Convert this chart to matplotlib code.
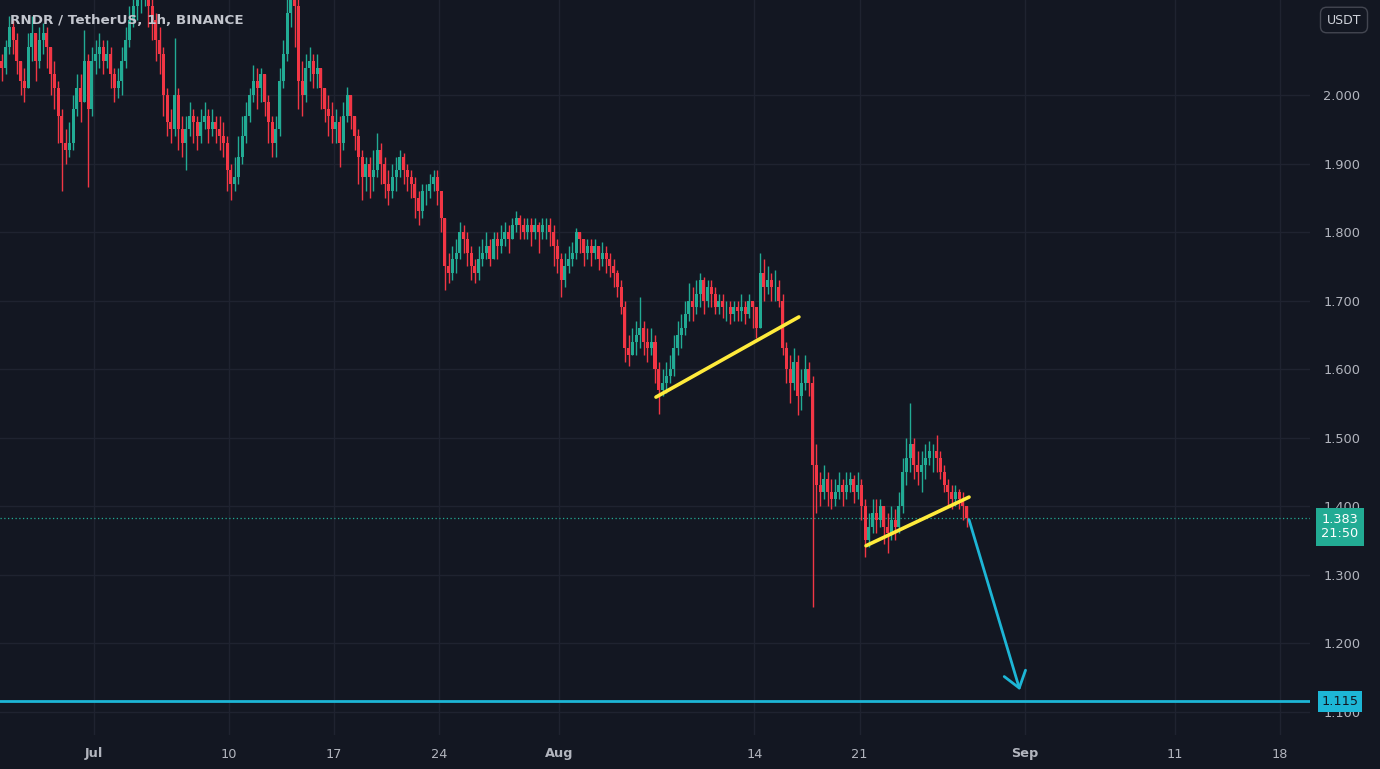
import numpy as np
import matplotlib.pyplot as plt
from matplotlib.transforms import blended_transform_factory

# RNDR/USDT, read off the chart as 6h candles (first one opens Jun 24 18:00)
# x unit = days since Jul 1 00:00
first_open = 2.05
first_day = -6.25
candle_days = 0.25

close = [
    2.04,
    2.07, 2.10, 2.08, 2.05,  # Jun 25
    2.02, 2.01, 2.07, 2.09,  # Jun 26
    2.05, 2.08, 2.09, 2.07,  # Jun 27
    2.03, 2.01, 1.97, 1.93,  # Jun 28
    1.92, 1.93, 1.98, 2.01,  # Jun 29
    1.99, 2.05, 1.98, 2.05,  # Jun 30
    2.06, 2.07, 2.05, 2.06,  # Jul 1
    2.03, 2.01, 2.02, 2.05,  # Jul 2
    2.08, 2.11, 2.13, 2.14,  # Jul 3
    2.15, 2.16, 2.13, 2.11,  # Jul 4
    2.08, 2.06, 2.00, 1.96,  # Jul 5
    1.95, 2.00, 1.95, 1.93,  # Jul 6
    1.95, 1.97, 1.96, 1.94,  # Jul 7
    1.96, 1.97, 1.95, 1.96,  # Jul 8
    1.95, 1.94, 1.93, 1.89,  # Jul 9
    1.87, 1.88, 1.91, 1.94,  # Jul 10
    1.97, 2.00, 2.02, 2.01,  # Jul 11
    2.03, 1.99, 1.96, 1.93,  # Jul 12
    1.95, 2.02, 2.06, 2.12,  # Jul 13
    2.15, 2.13, 2.02, 2.00,  # Jul 14
    2.04, 2.05, 2.03, 2.04,  # Jul 15
    2.01, 1.98, 1.97, 1.95,  # Jul 16
    1.96, 1.93, 1.97, 2.00,  # Jul 17
    1.97, 1.94, 1.91, 1.88,  # Jul 18
    1.90, 1.88, 1.89, 1.92,  # Jul 19
    1.90, 1.87, 1.86, 1.88,  # Jul 20
    1.89, 1.91, 1.89, 1.88,  # Jul 21
    1.87, 1.85, 1.83, 1.86,  # Jul 22
    1.86, 1.87, 1.88, 1.86,  # Jul 23
    1.82, 1.75, 1.74, 1.76,  # Jul 24
    1.77, 1.80, 1.79, 1.77,  # Jul 25
    1.75, 1.74, 1.76, 1.77,  # Jul 26
    1.78, 1.76, 1.79, 1.78,  # Jul 27
    1.79, 1.80, 1.79, 1.81,  # Jul 28
    1.82, 1.81, 1.80, 1.81,  # Jul 29
    1.80, 1.81, 1.80, 1.81,  # Jul 30
    1.81, 1.80, 1.78, 1.76,  # Jul 31
    1.73, 1.75, 1.76, 1.77,  # Aug 1
    1.80, 1.79, 1.77, 1.78,  # Aug 2
    1.77, 1.78, 1.76, 1.77,  # Aug 3
    1.76, 1.75, 1.74, 1.72,  # Aug 4
    1.69, 1.63, 1.62, 1.64,  # Aug 5
    1.65, 1.66, 1.64, 1.63,  # Aug 6
    1.64, 1.60, 1.57, 1.58,  # Aug 7
    1.59, 1.60, 1.63, 1.65,  # Aug 8
    1.66, 1.68, 1.70, 1.69,  # Aug 9
    1.71, 1.73, 1.70, 1.72,  # Aug 10
    1.71, 1.69, 1.70, 1.69,  # Aug 11
    1.69, 1.68, 1.69, 1.685,  # Aug 12
    1.69, 1.68, 1.70, 1.69,  # Aug 13
    1.66, 1.74, 1.72, 1.73,  # Aug 14
    1.72, 1.72, 1.70, 1.63,  # Aug 15
    1.60, 1.58, 1.61, 1.56,  # Aug 16
    1.58, 1.60, 1.58, 1.46,  # Aug 17
    1.43, 1.42, 1.44, 1.42,  # Aug 18
    1.41, 1.42, 1.43, 1.42,  # Aug 19
    1.43, 1.44, 1.42, 1.43,  # Aug 20
    1.40, 1.35, 1.37, 1.39,  # Aug 21
    1.38, 1.40, 1.37, 1.36,  # Aug 22
    1.38, 1.37, 1.40, 1.45,  # Aug 23
    1.47, 1.49, 1.46, 1.45,  # Aug 24
    1.46, 1.47, 1.48, 1.48,  # Aug 25
    1.47, 1.45, 1.43, 1.42,  # Aug 26
    1.41, 1.42, 1.41, 1.40,  # Aug 27
    1.383,
]

high = [
    2.06,
    2.08, 2.115, 2.11, 2.09,
    2.05, 2.04, 2.09, 2.115,
    2.09, 2.10, 2.105, 2.10,
    2.07, 2.05, 2.02, 1.98,
    1.95, 1.96, 2.00, 2.03,
    2.03, 2.095, 2.06, 2.07,
    2.08, 2.09, 2.08, 2.08,
    2.07, 2.04, 2.04, 2.07,
    2.10, 2.13, 2.15, 2.16,
    2.18, 2.19, 2.17, 2.14,
    2.12, 2.10, 2.07, 2.01,
    1.98, 2.083, 2.01, 1.97,
    1.97, 1.99, 1.98, 1.97,
    1.98, 1.99, 1.98, 1.98,
    1.97, 1.97, 1.96, 1.94,
    1.90, 1.91, 1.94, 1.97,
    1.99, 2.01, 2.044, 2.04,
    2.04, 2.03, 2.00, 1.97,
    1.97, 2.04, 2.08, 2.15,
    2.19, 2.18, 2.14, 2.05,
    2.06, 2.07, 2.06, 2.06,
    2.04, 2.01, 2.00, 1.99,
    1.98, 1.97, 1.99, 2.012,
    2.00, 1.97, 1.95, 1.92,
    1.91, 1.91, 1.92, 1.945,
    1.93, 1.91, 1.89, 1.90,
    1.91, 1.92, 1.915, 1.90,
    1.89, 1.88, 1.86, 1.87,
    1.87, 1.885, 1.89, 1.89,
    1.86, 1.82, 1.77, 1.78,
    1.79, 1.815, 1.81, 1.80,
    1.78, 1.76, 1.78, 1.79,
    1.80, 1.79, 1.80, 1.80,
    1.81, 1.815, 1.81, 1.82,
    1.83, 1.825, 1.82, 1.82,
    1.82, 1.82, 1.815, 1.82,
    1.82, 1.82, 1.81, 1.79,
    1.77, 1.77, 1.78, 1.785,
    1.806, 1.80, 1.79, 1.79,
    1.79, 1.79, 1.78, 1.785,
    1.78, 1.77, 1.76, 1.745,
    1.73, 1.70, 1.65, 1.66,
    1.67, 1.705, 1.67, 1.66,
    1.66, 1.65, 1.61, 1.60,
    1.61, 1.62, 1.65, 1.67,
    1.68, 1.70, 1.725, 1.72,
    1.73, 1.74, 1.735, 1.73,
    1.73, 1.72, 1.71, 1.71,
    1.70, 1.70, 1.70, 1.70,
    1.71, 1.70, 1.71, 1.70,
    1.68, 1.769, 1.76, 1.75,
    1.74, 1.745, 1.73, 1.71,
    1.64, 1.62, 1.63, 1.62,
    1.60, 1.62, 1.61, 1.59,
    1.49, 1.45, 1.46, 1.45,
    1.44, 1.44, 1.45, 1.44,
    1.45, 1.45, 1.445, 1.45,
    1.44, 1.41, 1.39, 1.41,
    1.41, 1.41, 1.40, 1.39,
    1.40, 1.395, 1.42, 1.47,
    1.50, 1.55, 1.50, 1.48,
    1.48, 1.49, 1.495, 1.49,
    1.504, 1.48, 1.46, 1.44,
    1.43, 1.43, 1.425, 1.42,
    1.40,
]

low = [
    2.02,
    2.03, 2.06, 2.06, 2.03,
    2.00, 1.99, 2.01, 2.05,
    2.02, 2.04, 2.06, 2.04,
    2.00, 1.98, 1.93, 1.86,
    1.90, 1.91, 1.92, 1.97,
    1.96, 1.99, 1.866, 1.97,
    2.03, 2.04, 2.03, 2.04,
    2.01, 1.99, 1.995, 2.00,
    2.04, 2.07, 2.10, 2.11,
    2.12, 2.13, 2.10, 2.08,
    2.05, 2.03, 1.97, 1.94,
    1.93, 1.94, 1.92, 1.91,
    1.89, 1.94, 1.93, 1.92,
    1.93, 1.95, 1.93, 1.94,
    1.93, 1.92, 1.91, 1.86,
    1.847, 1.86, 1.87, 1.90,
    1.93, 1.96, 1.99, 1.98,
    1.99, 1.97, 1.93, 1.91,
    1.91, 1.94, 2.01, 2.05,
    2.10, 2.07, 1.98, 1.97,
    1.99, 2.02, 2.01, 2.01,
    1.98, 1.96, 1.94, 1.93,
    1.93, 1.895, 1.92, 1.96,
    1.95, 1.92, 1.87, 1.847,
    1.86, 1.85, 1.86, 1.88,
    1.87, 1.85, 1.84, 1.85,
    1.86, 1.88, 1.87, 1.86,
    1.85, 1.82, 1.81, 1.82,
    1.84, 1.85, 1.86, 1.84,
    1.80, 1.715, 1.725, 1.73,
    1.74, 1.76, 1.77, 1.75,
    1.73, 1.725, 1.73, 1.75,
    1.76, 1.75, 1.76, 1.76,
    1.77, 1.78, 1.77, 1.79,
    1.80, 1.79, 1.79, 1.79,
    1.78, 1.79, 1.77, 1.79,
    1.79, 1.78, 1.75, 1.74,
    1.705, 1.72, 1.74, 1.75,
    1.76, 1.77, 1.75, 1.76,
    1.75, 1.76, 1.745, 1.75,
    1.74, 1.735, 1.72, 1.705,
    1.68, 1.61, 1.605, 1.62,
    1.62, 1.63, 1.62, 1.61,
    1.62, 1.58, 1.535, 1.56,
    1.565, 1.58, 1.59, 1.62,
    1.63, 1.65, 1.67, 1.67,
    1.68, 1.69, 1.68, 1.69,
    1.69, 1.68, 1.68, 1.675,
    1.67, 1.665, 1.67, 1.67,
    1.67, 1.665, 1.675, 1.66,
    1.645, 1.66, 1.70, 1.71,
    1.70, 1.70, 1.69, 1.62,
    1.58, 1.55, 1.57, 1.533,
    1.54, 1.57, 1.56, 1.253,
    1.39, 1.40, 1.41, 1.40,
    1.395, 1.40, 1.41, 1.40,
    1.41, 1.42, 1.405, 1.41,
    1.38, 1.325, 1.34, 1.36,
    1.36, 1.37, 1.345, 1.331,
    1.35, 1.35, 1.36, 1.39,
    1.43, 1.45, 1.44, 1.43,
    1.42, 1.44, 1.46, 1.45,
    1.45, 1.44, 1.42, 1.40,
    1.395, 1.40, 1.395, 1.38,
    1.37,
]

xtick_days = [0, 9, 16, 23, 31, 44, 51, 62, 72, 79]
xtick_labels = ["Jul", "10", "17", "24", "Aug", "14", "21", "Sep", "11", "18"]
month_labels = ["Jul", "Aug", "Sep"]
ytick_vals = [1.1, 1.2, 1.3, 1.4, 1.5, 1.6, 1.7, 1.8, 1.9, 2.0]

last_price = 1.383
countdown = "21:50"
target_price = 1.115
trend1_days, trend1_prices = [37.44, 46.96], [1.559, 1.676]
trend2_days, trend2_prices = [51.43, 58.29], [1.342, 1.413]
arrow_from = (58.29, 1.380)
arrow_to = (61.68, 1.131)

bg = "#131722"
grid_col = "#1f2330"
txt_col = "#b2b5be"
up_col = "#22ab94"
dn_col = "#f23645"
cyan = "#1db6d6"
yellow = "#ffeb3b"

fig = plt.figure(figsize=(13.8, 7.69), dpi=100)
fig.patch.set_facecolor(bg)
ax = fig.add_axes([0, 34 / 769, 1310 / 1380, 735 / 769])
ax.set_facecolor(bg)

c = np.array(close)
h = np.array(high)
l = np.array(low)
o = np.concatenate([[first_open], c[:-1]])
t = first_day + candle_days * np.arange(len(c)) + candle_days / 2
h = np.maximum(h, np.maximum(o, c))
l = np.minimum(l, np.minimum(o, c))
cols = np.where(c >= o, up_col, dn_col)

ax.vlines(t, l, h, colors=cols, lw=1.0, zorder=3)
ax.bar(t, np.abs(c - o), bottom=np.minimum(o, c), width=candle_days * 0.8,
       color=cols, linewidth=0, zorder=3)

ax.set_xlim(-6.25, 81.0)
ax.set_ylim(1.0657, 2.1387)

ax.set_xticks(xtick_days)
ax.set_xticklabels(xtick_labels)
for lab in ax.get_xticklabels():
    if lab.get_text() in month_labels:
        lab.set_fontweight("bold")
ax.yaxis.tick_right()
ax.set_yticks(ytick_vals)
ax.set_yticklabels([f"{v:.3f}" for v in ytick_vals])
ax.tick_params(axis="x", length=0, pad=9, labelsize=9.3, labelcolor=txt_col)
ax.tick_params(axis="y", length=0, pad=9.5, labelsize=9.3, labelcolor=txt_col)
ax.grid(color=grid_col, lw=1, zorder=0)
for s in ax.spines.values():
    s.set_visible(False)

# drawings
ax.axhline(last_price, color=up_col, lw=0.9, ls=(0, (1, 2)), zorder=2)
ax.axhline(target_price, color=cyan, lw=2, zorder=4)
ax.plot(trend1_days, trend1_prices, color=yellow, lw=2.6,
        solid_capstyle="round", zorder=5)
ax.plot(trend2_days, trend2_prices, color=yellow, lw=2.6,
        solid_capstyle="round", zorder=5)
ax.annotate("", xy=arrow_to, xytext=arrow_from,
            arrowprops=dict(arrowstyle="->,head_length=0.55,head_width=0.4",
                            color=cyan, lw=2, shrinkA=0, shrinkB=0,
                            mutation_scale=20), zorder=5)

# price-scale labels
trans = blended_transform_factory(ax.transAxes, ax.transData)
ax.annotate(f"{last_price:.3f}\n{countdown}", xy=(1340 / 1310, last_price),
            xycoords=trans, xytext=(0, -6.5), textcoords="offset points",
            ha="center", va="center", fontsize=9.3, color="white",
            linespacing=1.15, annotation_clip=False, zorder=10,
            bbox=dict(boxstyle="square,pad=0.42", fc=up_col, ec="none"))
ax.text(1340 / 1310, target_price, f"{target_price:.3f}", transform=trans,
        ha="center", va="center", fontsize=9.3, color=bg, zorder=10,
        bbox=dict(boxstyle="square,pad=0.3", fc=cyan, ec="none"))

fig.text(10 / 1380, 1 - 20 / 769, "RNDR / TetherUS, 1h, BINANCE",
         ha="left", va="center", fontsize=9.7, fontweight="bold",
         color="#c3c6ce")
fig.text(1344 / 1380, 1 - 20 / 769, "USDT", ha="center", va="center",
         fontsize=9, color="#d1d4dc",
         bbox=dict(boxstyle="round,pad=0.5,rounding_size=0.5", fc=bg,
                   ec="#434651", lw=1))

fig.savefig("out.png", dpi=100, facecolor=bg)
